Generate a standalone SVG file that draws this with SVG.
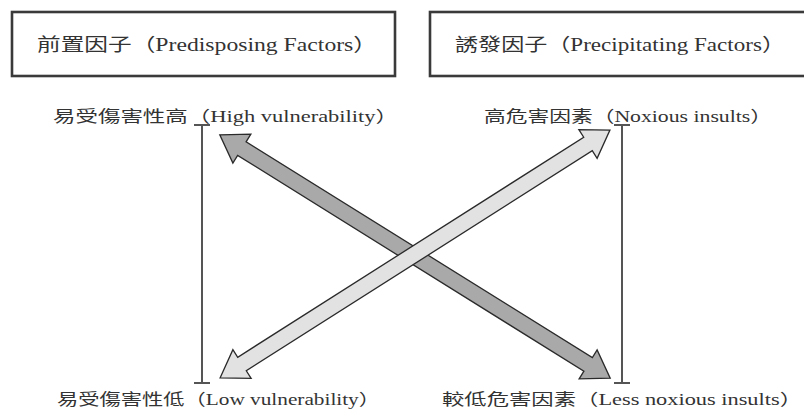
<svg xmlns="http://www.w3.org/2000/svg" width="804" height="412" viewBox="0 0 804 412">
<style>
.box{fill:#fff;stroke:#3a3a3a;stroke-width:2.6}
.t{font-family:"Liberation Serif","Noto Sans CJK TC",serif;fill:#333}
.bt{font-size:18px}
.lt{font-size:16px}
.bar{stroke:#555;stroke-width:2;fill:none}
.arr{stroke:#2a2a2a;stroke-width:1.3;stroke-linejoin:miter}
</style>
<rect width="804" height="412" fill="#fff"/>
<g id="predisposing">
<rect class="box" x="12" y="12" width="383" height="64"/>
<text class="t bt" x="37" y="51" textLength="340" lengthAdjust="spacingAndGlyphs">前置因子（Predisposing Factors）</text>
</g>
<g id="precipitating">
<rect class="box" x="430" y="12" width="384" height="64"/>
<text class="t bt" x="455" y="51" textLength="330" lengthAdjust="spacingAndGlyphs">誘發因子（Precipitating Factors）</text>
</g>
<g id="high-vuln">
<text class="t lt" x="53" y="122" textLength="345" lengthAdjust="spacingAndGlyphs">易受傷害性高（High vulnerability）</text>
</g>
<g id="noxious">
<text class="t lt" x="484" y="122" textLength="288" lengthAdjust="spacingAndGlyphs">高危害因素（Noxious insults）</text>
</g>
<g id="low-vuln">
<text class="t lt" x="57" y="405" textLength="323" lengthAdjust="spacingAndGlyphs">易受傷害性低（Low vulnerability）</text>
</g>
<g id="less-noxious">
<text class="t lt" x="442" y="405" textLength="360" lengthAdjust="spacingAndGlyphs">較低危害因素（Less noxious insults）</text>
</g>
<g id="connectors">
<path class="bar" d="M202 125V383M194 125H210M194 383H210"/>
<path class="bar" d="M622 125V383M614 125H630M614 383H630"/>
<polygon class="arr" fill="#a9a9a9" transform="translate(415 256.5) rotate(31.93)" points="-230,0 -204,-17 -204,-8 204,-8 204,-17 230,0 204,17 204,8 -204,8 -204,17"/>
<polygon class="arr" fill="#e2e2e2" transform="translate(415 254) rotate(-32.45)" points="-231,0 -205,-17 -205,-8 205,-8 205,-17 231,0 205,17 205,8 -205,8 -205,17"/>
</g>
</svg>
